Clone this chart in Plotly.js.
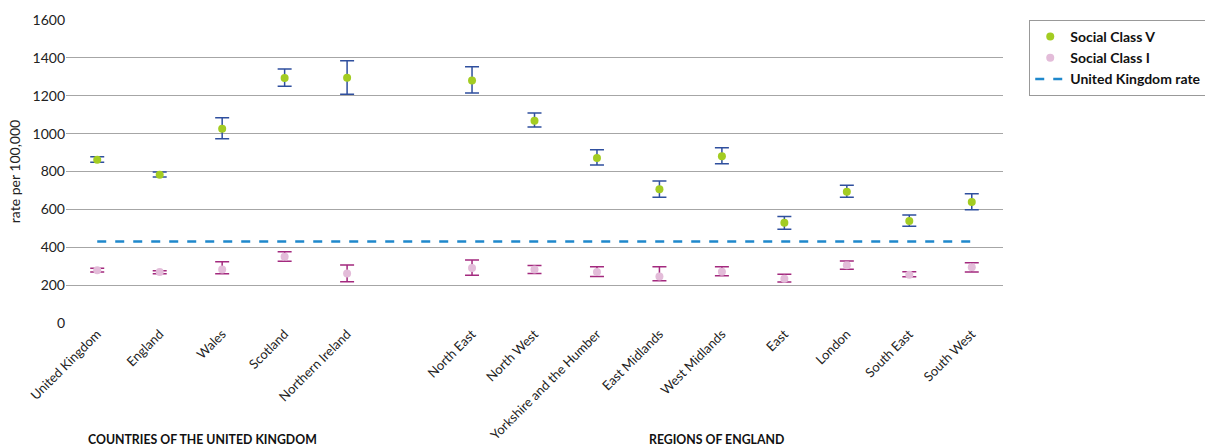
<!DOCTYPE html>
<html>
<head>
<meta charset="utf-8">
<script src="https://cdn.plot.ly/plotly-3.0.1.min.js"></script>
<style>html,body{margin:0;padding:0;background:#fff;}#chart{width:1205px;height:447px;}</style>
</head>
<body>
<div id="chart"></div>
<script>
// Categories (blank slot separates the two groups)
const categories = ["United Kingdom","England","Wales","Scotland","Northern Ireland","",
  "North East","North West","Yorkshire and the Humber","East Midlands","West Midlands",
  "East","London","South East","South West"];

// Social Class V
const classV      = [862, 783, 1026, 1294, 1295, null, 1281, 1068, 871, 706, 880, 530, 693, 539, 639];
const classVUpper = [878, 797, 1084, 1341, 1385, null, 1353, 1109, 915, 750, 926, 563, 727, 570, 683];
const classVLower = [849, 771,  973, 1250, 1208, null, 1214, 1035, 834, 664, 841, 495, 664, 511, 598];

// Social Class I
const classI      = [278, 269, 283, 350, 262, null, 290, 283, 269, 246, 271, 234, 305, 255, 294];
const classIUpper = [289, 276, 324, 376, 306, null, 333, 303, 297, 297, 297, 257, 327, 271, 318];
const classILower = [269, 260, 260, 326, 218, null, 252, 262, 246, 223, 250, 217, 284, 244, 269];

const ukRate = 430;
const groupLabels = ["COUNTRIES OF THE UNITED KINGDOM", "REGIONS OF ENGLAND"];
const yTicks = [0, 200, 400, 600, 800, 1000, 1200, 1400, 1600];

const idx = categories.map((c, i) => i);
const up = (v, u) => v.map((x, i) => x == null ? null : u[i] - x);
const dn = (v, l) => v.map((x, i) => x == null ? null : x - l[i]);

const FONT = "Lato, 'Open Sans', sans-serif";

const traces = [
  {
    type: "scatter", mode: "markers", name: "Social Class V",
    x: idx, y: classV,
    marker: {color: "#a3cc22", size: 8},
    error_y: {type: "data", symmetric: false, array: up(classV, classVUpper), arrayminus: dn(classV, classVLower),
      color: "#2f4f9e", thickness: 1.5, width: 7}
  },
  {
    type: "scatter", mode: "markers", name: "Social Class I",
    x: idx, y: classI,
    marker: {color: "#e3bcd9", size: 8},
    error_y: {type: "data", symmetric: false, array: up(classI, classIUpper), arrayminus: dn(classI, classILower),
      color: "#a3297e", thickness: 1.5, width: 7}
  },
  {
    type: "scatter", mode: "lines", name: "United Kingdom rate",
    x: [idx[0], idx[idx.length - 1]], y: [ukRate, ukRate],
    line: {color: "#1f88cc", width: 2.5, dash: "dash"}
  }
];

const layout = {
  width: 1205, height: 447,
  margin: {l: 66, r: 202, t: 20, b: 124, autoexpand: false},
  paper_bgcolor: "#ffffff", plot_bgcolor: "#ffffff",
  font: {family: FONT, color: "#222", size: 13},
  showlegend: true,
  legend: {
    x: 1.028, y: 1.0, xanchor: "left", yanchor: "top",
    bordercolor: "#999", borderwidth: 1, bgcolor: "#fff",
    font: {family: FONT, size: 14, color: "#111", weight: "bold"},
    itemwidth: 30
  },
  xaxis: {
    range: [-0.5, categories.length - 0.5],
    tickmode: "array", tickvals: idx, ticktext: categories,
    tickangle: -45, tickfont: {family: FONT, size: 13, color: "#222"},
    showgrid: false, zeroline: false, showline: false, ticks: ""
  },
  yaxis: {
    range: [0, 1600], tickmode: "array", tickvals: yTicks,
    tickfont: {family: FONT, size: 14, color: "#222"},
    showgrid: true, gridcolor: "#a6a6a6", gridwidth: 1,
    zeroline: false, showline: false, ticks: "",
    title: {text: "rate per 100,000", font: {family: FONT, size: 14, color: "#222"}, standoff: 8}
  },
  annotations: [
    {text: groupLabels[0], xref: "paper", yref: "paper", x: 0.146, y: -0.383, showarrow: false,
      xanchor: "center", yanchor: "middle", font: {family: FONT, size: 12.3, color: "#111", weight: "bold"}},
    {text: groupLabels[1], xref: "paper", yref: "paper", x: 0.694, y: -0.383, showarrow: false,
      xanchor: "center", yanchor: "middle", font: {family: FONT, size: 12.3, color: "#111", weight: "bold"}}
  ]
};

Plotly.newPlot("chart", traces, layout, {displayModeBar: false, staticPlot: true});
</script>
</body>
</html>
